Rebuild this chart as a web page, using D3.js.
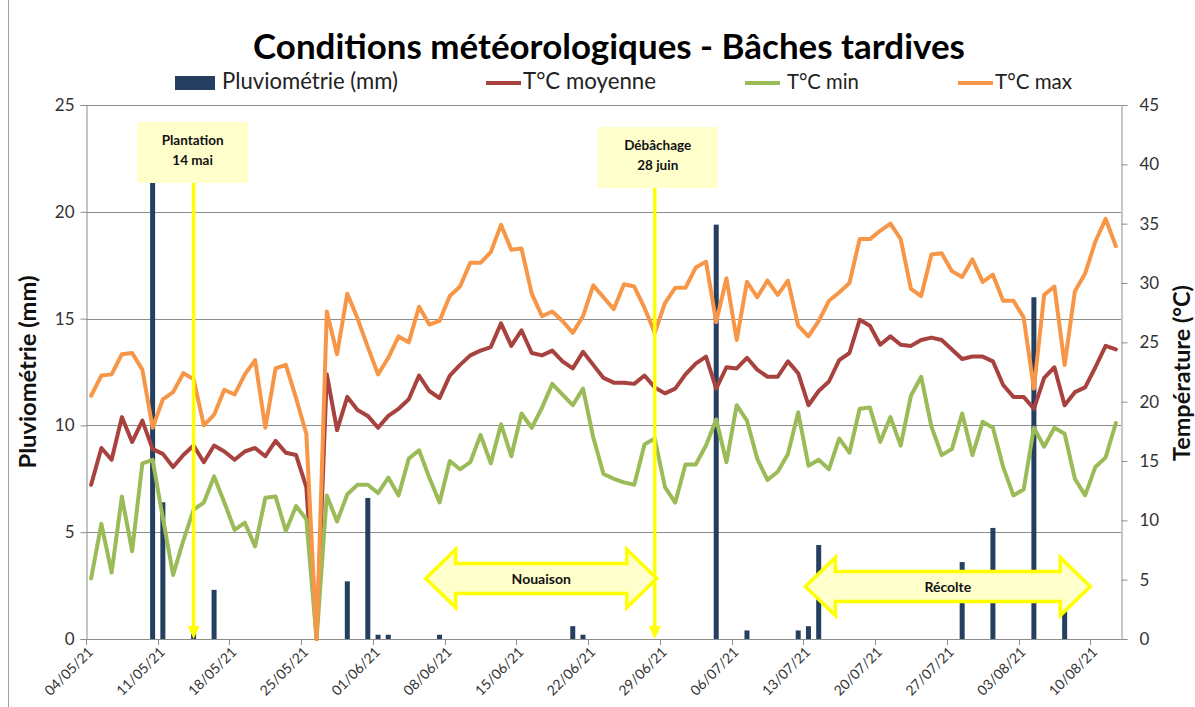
<!DOCTYPE html>
<html>
<head>
<meta charset="utf-8">
<script src="https://cdn.jsdelivr.net/npm/d3@7"></script>
<style>
  html, body { margin: 0; padding: 0; background: #fff; }
  svg { display: block; font-family: Lato, "Open Sans", sans-serif; }
</style>
</head>
<body>
<svg id="chart" width="1195" height="707"></svg>
<script>
// ---------- DATA ----------
const startDate = "2021-05-04";
const endDate = "2021-08-12";
const tickLabels = ["04/05/21","11/05/21","18/05/21","25/05/21","01/06/21","08/06/21","15/06/21","22/06/21","29/06/21","06/07/21","13/07/21","20/07/21","27/07/21","03/08/21","10/08/21"];
const rainLeftTicks = [0,5,10,15,20,25];
const tempRightTicks = [0,5,10,15,20,25,30,35,40,45];

// Pluviométrie (mm) : non-zero days only (date -> mm)
const rainDays = ["2021-05-10","2021-05-11","2021-05-14","2021-05-16","2021-05-29","2021-05-31","2021-06-01","2021-06-02","2021-06-07","2021-06-20","2021-06-21","2021-07-04","2021-07-07","2021-07-12","2021-07-13","2021-07-14","2021-07-28","2021-07-31","2021-08-04","2021-08-07"];
const rainValues = [22.5, 6.4, 0.3, 2.3, 2.7, 6.6, 0.2, 0.2, 0.2, 0.6, 0.2, 19.4, 0.4, 0.4, 0.6, 4.4, 3.6, 5.2, 16.0, 2.5];

const tMoy = [13.0,16.1,15.1,18.7,16.6,18.4,16.0,15.6,14.5,15.5,16.3,14.9,16.3,15.8,15.1,15.8,16.1,15.4,16.7,15.7,
  15.5,12.8,0,22.3,17.6,20.4,19.3,18.8,17.8,18.8,19.4,20.2,22.2,20.9,20.3,22.2,23.1,23.9,24.3,24.6,
  26.6,24.7,26.0,24.1,23.9,24.3,23.4,22.8,24.2,23.1,22.0,21.6,21.6,21.5,22.2,21.2,20.7,21.1,22.3,23.2,
  23.8,21.1,22.9,22.8,23.7,22.7,22.1,22.1,23.4,22.4,19.7,20.9,21.7,23.5,24.1,26.9,26.4,24.8,25.5,24.8,
  24.7,25.2,25.4,25.2,24.4,23.6,23.8,23.8,23.4,21.4,20.4,20.4,19.4,22.0,22.9,19.7,20.8,21.2,22.9,24.7,24.4];
const tMin = [5.1,9.7,5.6,12.0,7.4,14.8,15.1,10.2,5.4,8.3,10.9,11.5,13.7,11.5,9.2,9.8,7.8,11.9,12.0,9.1,
  11.2,10.1,0,12.1,9.9,12.2,13.0,13.0,12.3,13.6,12.1,15.2,15.9,13.6,11.5,15.0,14.3,14.9,17.2,14.8,
  18.1,15.4,19.0,17.8,19.5,21.5,20.6,19.7,21.1,17.0,13.9,13.5,13.2,13.0,16.4,16.9,12.8,11.5,14.7,14.7,
  16.3,18.5,14.9,19.7,18.4,15.2,13.4,14.1,15.6,19.1,14.6,15.1,14.3,16.9,15.7,19.4,19.5,16.6,18.7,16.3,
  20.5,22.1,17.9,15.5,16.0,19.0,15.5,18.3,17.8,14.5,12.1,12.6,17.8,16.2,17.8,17.3,13.5,12.1,14.5,15.3,18.2];
const tMax = [20.5,22.2,22.3,24.0,24.1,22.7,17.8,20.2,20.8,22.4,21.9,18.0,18.9,21.0,20.6,22.3,23.5,17.8,22.8,23.1,
  20.3,17.3,0,27.6,24.0,29.1,27.0,24.6,22.3,23.7,25.5,25.0,28.0,26.5,26.8,28.9,29.7,31.7,31.7,32.6,
  34.9,32.8,32.9,29.1,27.2,27.6,26.8,25.8,27.2,29.8,28.8,27.8,29.9,29.7,27.9,25.8,28.3,29.6,29.6,31.3,
  31.8,26.7,30.4,25.2,30.1,28.8,30.2,29.0,30.2,26.4,25.5,26.8,28.5,29.2,30.0,33.7,33.7,34.4,35.0,33.7,
  29.5,28.9,32.4,32.5,31.0,30.5,32.0,30.1,30.7,28.5,28.5,27.1,21.1,29.0,29.7,23.1,29.3,30.8,33.5,35.4,33.1];

const seriesNames = ["Pluviométrie (mm)", "T°C moyenne", "T°C min", "T°C max"];
const seriesColors = ["#243F60", "#A8423F", "#9BBB59", "#F79646"];

// ---------- SETUP ----------
const parse = d3.timeParse("%Y-%m-%d");
const fmtKey = d3.timeFormat("%Y-%m-%d");
const fmtTick = d3.timeFormat("%d/%m/%y");
const dates = d3.timeDay.range(parse(startDate), d3.timeDay.offset(parse(endDate), 1));
const keys = dates.map(fmtKey);
const rainMap = new Map(rainDays.map((d, i) => [d, rainValues[i]]));

const svg = d3.select("#chart");
const L = 86, R = 1121, T = 105, B = 639;
const x = d3.scaleBand().domain(keys).range([L, R]).padding(0);
const bw = x.bandwidth();
const xc = k => x(k) + bw / 2;
const yL = d3.scaleLinear().domain([0, 25]).range([B, T]);
const yR = d3.scaleLinear().domain([0, 45]).range([B, T]);
const gridColor = "#8c8c8c";

// outer frame edge
svg.append("line").attr("x1", 8.5).attr("x2", 8.5).attr("y1", 0).attr("y2", 707)
  .attr("stroke", "#a0a0a0").attr("stroke-width", 1);

// gridlines
svg.append("g").selectAll("line").data(rainLeftTicks.filter(v => v > 0)).join("line")
  .attr("x1", L).attr("x2", R).attr("y1", d => Math.round(yL(d)) + 0.5).attr("y2", d => Math.round(yL(d)) + 0.5)
  .attr("stroke", gridColor).attr("stroke-width", 1);

// left axis
const gl = svg.append("g").attr("transform", `translate(${L + 0.5},0)`)
  .call(d3.axisLeft(yL).tickValues(rainLeftTicks).tickSize(6).tickPadding(6));
gl.select(".domain").attr("stroke", gridColor);
gl.selectAll(".tick line").attr("stroke", gridColor);
gl.selectAll("text").attr("font-size", 17).attr("fill", "#333").attr("font-family", "Lato, sans-serif");

// right axis
const gr = svg.append("g").attr("transform", `translate(${R + 0.5},0)`)
  .call(d3.axisRight(yR).tickValues(tempRightTicks).tickSize(6).tickPadding(12));
gr.select(".domain").attr("stroke", gridColor);
gr.selectAll(".tick line").attr("stroke", gridColor);
gr.selectAll("text").attr("font-size", 17).attr("fill", "#333").attr("font-family", "Lato, sans-serif");

// bottom axis
const tickKeys = tickLabels.map(s => fmtKey(d3.timeParse("%d/%m/%y")(s)));
svg.append("line").attr("x1", L).attr("x2", R + 0.5).attr("y1", B + 0.5).attr("y2", B + 0.5).attr("stroke", gridColor);
const gb = svg.append("g");
gb.selectAll("line").data(tickKeys).join("line")
  .attr("x1", d => Math.round(x(d)) + 0.5).attr("x2", d => Math.round(x(d)) + 0.5)
  .attr("y1", B).attr("y2", B + 6).attr("stroke", gridColor);
gb.selectAll("text").data(tickKeys).join("text")
  .attr("transform", d => `translate(${x(d) + 8},${B + 14}) rotate(-45)`)
  .attr("text-anchor", "end").attr("font-size", 14).attr("fill", "#333")
  .text(d => fmtTick(parse(d)));

// bars
const barW = 5;
svg.append("g").selectAll("rect").data(keys.filter(k => rainMap.has(k))).join("rect")
  .attr("x", k => xc(k) - barW / 2).attr("width", barW)
  .attr("y", k => yL(rainMap.get(k))).attr("height", k => B - yL(rainMap.get(k)))
  .attr("fill", seriesColors[0]);

// lines
const lineGen = d3.line().x((d, i) => xc(keys[i])).y(d => yR(d));
[[tMoy, seriesColors[1]], [tMin, seriesColors[2]], [tMax, seriesColors[3]]].forEach(([vals, col]) => {
  svg.append("path").datum(vals).attr("d", lineGen).attr("fill", "none")
    .attr("stroke", col).attr("stroke-width", 4).attr("stroke-linejoin", "round").attr("stroke-linecap", "round");
});

// ---------- ANNOTATIONS ----------
const yellow = "#FFFF00", pale = "#FFFFCC";
function vArrowAnnot(dateKey, boxTop, boxBottom, boxW, boxDx, line1, line2) {
  const ax = xc(dateKey);
  const g = svg.append("g");
  g.append("line").attr("x1", ax).attr("x2", ax).attr("y1", boxBottom).attr("y2", B - 12)
    .attr("stroke", yellow).attr("stroke-width", 3.5);
  g.append("path").attr("d", `M${ax - 6},${B - 13} L${ax + 6},${B - 13} L${ax},${B} Z`).attr("fill", yellow);
  const bx = ax + boxDx - boxW / 2;
  g.append("rect").attr("x", bx).attr("y", boxTop).attr("width", boxW).attr("height", boxBottom - boxTop).attr("fill", pale);
  g.append("text").attr("x", bx + boxW / 2).attr("y", boxTop + 23).attr("text-anchor", "middle")
    .attr("font-weight", "bold").attr("font-size", 13.5).attr("fill", "#111").text(line1);
  g.append("text").attr("x", bx + boxW / 2).attr("y", boxTop + 43).attr("text-anchor", "middle")
    .attr("font-weight", "bold").attr("font-size", 13.5).attr("fill", "#111").text(line2);
}
vArrowAnnot("2021-05-14", 122, 183, 111, -1, "Plantation", "14 mai");
vArrowAnnot("2021-06-28", 127, 188, 120, 3, "Débâchage", "28 juin");

function dblArrow(k0, f0, k1, f1, cy, label) {
  const x0 = x(k0) + f0 * bw, x1 = x(k1) + f1 * bw;
  const bh = 15, hh = 29, hl = 30;
  const p = `M${x0},${cy} L${x0 + hl},${cy - hh} L${x0 + hl},${cy - bh} L${x1 - hl},${cy - bh} L${x1 - hl},${cy - hh} L${x1},${cy} L${x1 - hl},${cy + hh} L${x1 - hl},${cy + bh} L${x0 + hl},${cy + bh} L${x0 + hl},${cy + hh} Z`;
  svg.append("path").attr("d", p).attr("fill", pale).attr("stroke", yellow).attr("stroke-width", 3.5).attr("stroke-linejoin", "miter");
  svg.append("text").attr("x", (x0 + x1) / 2).attr("y", cy + 5).attr("text-anchor", "middle")
    .attr("font-weight", "bold").attr("font-size", 14).attr("fill", "#111").text(label);
}
dblArrow("2021-06-06", 0.15, "2021-06-28", 0.7, 578.5, "Nouaison");
dblArrow("2021-07-13", 0.2, "2021-08-10", 0.0, 586.5, "Récolte");

// ---------- TITLE, LEGEND, AXIS TITLES ----------
function fit(sel, w) {
  const cur = sel.node().getComputedTextLength();
  const fs = parseFloat(sel.attr("font-size"));
  sel.attr("font-size", fs * w / cur);
}
const title = svg.append("text").attr("x", 609).attr("y", 59).attr("text-anchor", "middle")
  .attr("font-weight", "bold").attr("font-size", 28).attr("fill", "#000")
  .text("Conditions météorologiques - Bâches tardives");
fit(title, 712);

const legendItems = [
  { name: seriesNames[0], col: seriesColors[0], type: "rect", sx: 175, tx: 222, tw: 176 },
  { name: seriesNames[1], col: seriesColors[1], type: "line", sx: 486, tx: 523, tw: 133 },
  { name: seriesNames[2], col: seriesColors[2], type: "line", sx: 745, tx: 787, tw: 72 },
  { name: seriesNames[3], col: seriesColors[3], type: "line", sx: 958, tx: 995, tw: 77 }
];
const lg = svg.append("g");
legendItems.forEach(it => {
  if (it.type === "rect") lg.append("rect").attr("x", it.sx).attr("y", 76).attr("width", 40).attr("height", 14).attr("fill", it.col);
  else lg.append("line").attr("x1", it.sx).attr("x2", it.sx + 35).attr("y1", 83).attr("y2", 83).attr("stroke", it.col).attr("stroke-width", 4);
  const t = lg.append("text").attr("x", it.tx).attr("y", 89).attr("font-size", 18).attr("fill", "#222").text(it.name);
  fit(t, it.tw);
});

const ytl = svg.append("text").attr("transform", "translate(36,372) rotate(-90)").attr("text-anchor", "middle")
  .attr("font-weight", "bold").attr("font-size", 18).attr("fill", "#111").text("Pluviométrie (mm)");
fit(ytl, 193);
const ytr = svg.append("text").attr("transform", "translate(1190,373) rotate(-90)").attr("text-anchor", "middle")
  .attr("font-weight", "bold").attr("font-size", 17).attr("fill", "#111").text("Température (°C)");
fit(ytr, 176);
</script>
</body>
</html>
